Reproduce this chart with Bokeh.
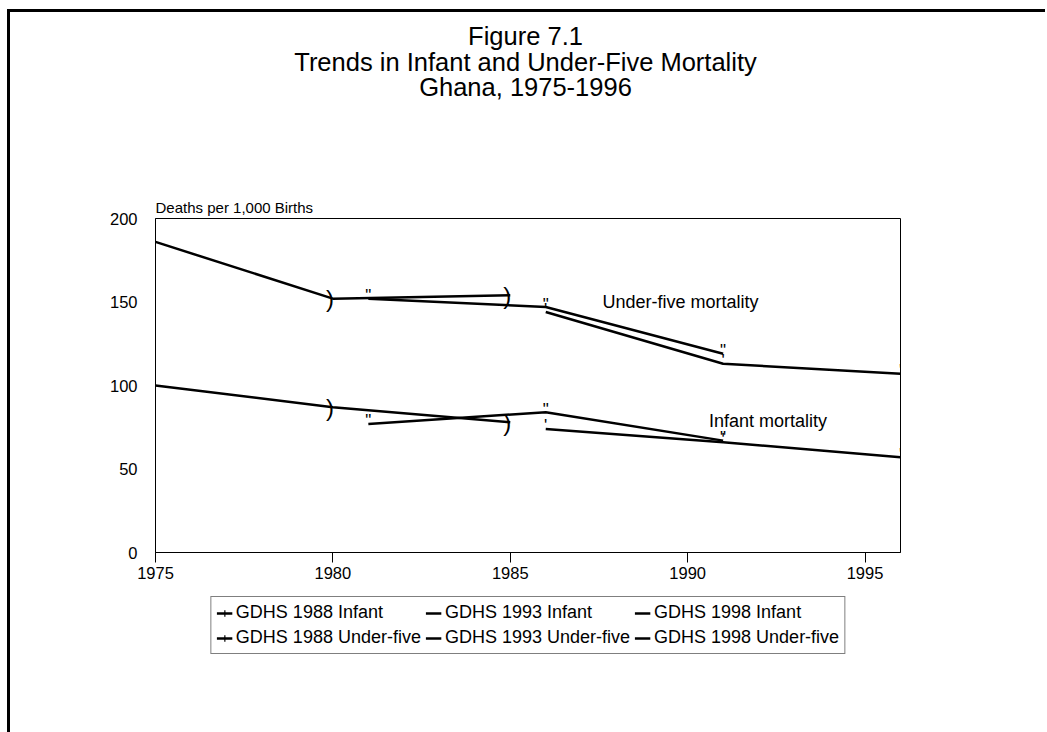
from bokeh.plotting import figure
from bokeh.layouts import column
from bokeh.models import Label, Legend, LegendItem, FixedTicker, Range1d, Div, Title
from bokeh.core.properties import value
from bokeh.embed import file_html
from bokeh.resources import INLINE

# ---- data ----
years_1988 = [1975, 1980, 1985]
infant_1988 = [100, 87, 78]
under5_1988 = [186, 152, 154]

years_1993 = [1981, 1986, 1991]
infant_1993 = [77, 84, 67]
under5_1993 = [152, 147, 119]

years_1998 = [1986, 1991, 1996]
infant_1998 = [74, 66, 57]
under5_1998 = [144, 113, 107]

x_ticks = [1975, 1980, 1985, 1990, 1995]
y_ticks = [0, 50, 100, 150, 200]

title_lines = ["Figure 7.1", "Trends in Infant and Under-Five Mortality", "Ghana, 1975-1996"]
y_title = "Deaths per 1,000 Births"

FONT = "Liberation Sans"

# ---- title block ----
head = Div(
    text=('<div style="padding-top:12px;text-align:center;font-family:\'Liberation Sans\';'
          'font-size:25.5px;line-height:25.5px;color:black;width:1031px;">'
          + "<br>".join(title_lines) + "</div>"),
    width=1035, height=100, margin=(0, 0, 0, 0))

# ---- chart ----
p = figure(width=1035, height=476, output_backend="svg", toolbar_location=None,
           x_range=Range1d(1975, 1996), y_range=Range1d(0, 200),
           min_border_left=145, min_border_right=145,
           min_border_top=106, min_border_bottom=36)
p.title = Title(text=y_title, align="left", text_font=FONT, text_font_size="15px",
                text_font_style="normal", text_color="black", standoff=6)
p.grid.visible = False
p.background_fill_color = "white"
p.border_fill_color = "white"
p.outline_line_color = "black"
p.outline_line_width = 1

# axes
p.xaxis.ticker = FixedTicker(ticks=x_ticks)
p.yaxis.ticker = FixedTicker(ticks=y_ticks)
for ax in (p.xaxis, p.yaxis):
    ax.axis_line_color = "black"
    ax.axis_line_width = 1
    ax.major_label_text_font = FONT
    ax.major_label_text_font_size = "16.5px"
    ax.major_label_text_color = "black"
    ax.minor_tick_line_color = None
p.xaxis.major_tick_in = 0
p.xaxis.major_tick_out = 10
p.xaxis.major_tick_line_color = "black"
p.xaxis.major_label_standoff = 4
p.yaxis.major_tick_in = 0
p.yaxis.major_tick_out = 0
p.yaxis.major_tick_line_color = None
p.yaxis.major_label_standoff = 18

LW = 2.5

def series(xs, ys, mark, off_x, off_y, size):
    ln = p.line(xs, ys, line_color="black", line_width=LW)
    mk = p.text(xs, ys, text=value(mark), text_font=value(FONT),
                text_font_size=value(size), text_color="black",
                text_align="center", text_baseline="middle",
                x_offset=off_x, y_offset=off_y)
    return ln, mk

series(years_1988, infant_1988, ")", -3, 0, "24px")
series(years_1988, under5_1988, ")", -3, 0, "24px")
series(years_1993, infant_1993, "\"", 0, -3, "17px")
series(years_1993, under5_1993, "\"", 0, -3, "17px")
series(years_1998, infant_1998, "'", 0, -3, "17px")
series(years_1998, under5_1998, "'", 0, -3, "17px")

p.add_layout(Label(x=1987.6, y=150, text="Under-five mortality", text_font=FONT,
                   text_font_size="18px", text_color="black",
                   text_align="left", text_baseline="middle"))
p.add_layout(Label(x=1990.6, y=79, text="Infant mortality", text_font=FONT,
                   text_font_size="18px", text_color="black",
                   text_align="left", text_baseline="middle"))

# ---- legend strip: a second canvas whose ranges keep the series out of view,
#      so its renderers only provide the legend keys ----
lg = figure(width=1035, height=144, output_backend="svg", toolbar_location=None,
            x_axis_location=None, y_axis_location=None, min_border=0,
            x_range=Range1d(0, 1), y_range=Range1d(0, 1))
lg.grid.visible = False
lg.outline_line_color = None
lg.background_fill_color = "white"
lg.border_fill_color = "white"

def key(xs, ys, label, cross):
    rends = [lg.line(xs, ys, line_color="black", line_width=LW)]
    if cross:
        rends.append(lg.scatter(xs, ys, marker="cross", size=17,
                                line_color="black", line_width=1.2))
    return LegendItem(label=label, renderers=rends)

items = [
    key(years_1988, infant_1988, "GDHS 1988 Infant", True),
    key(years_1993, infant_1993, "GDHS 1993 Infant", False),
    key(years_1998, infant_1998, "GDHS 1998 Infant", False),
    key(years_1988, under5_1988, "GDHS 1988 Under-five", True),
    key(years_1993, under5_1993, "GDHS 1993 Under-five", False),
    key(years_1998, under5_1998, "GDHS 1998 Under-five", False),
]

legend = Legend(items=items, orientation="horizontal", ncols=3, location="top_center")
legend.label_text_font = FONT
legend.label_text_font_size = "18px"
legend.label_text_color = "black"
legend.glyph_width = 16
legend.glyph_height = 20
legend.label_height = 20
legend.label_standoff = 4
legend.spacing = 4
legend.padding = 5
legend.margin = 8
legend.border_line_color = "black"
legend.border_line_width = 1
legend.background_fill_alpha = 1
lg.add_layout(legend, "center")

page = column(head, p, lg, spacing=0,
              styles={"border-left": "3px solid black", "border-top": "3px solid black",
                      "margin-left": "7px", "margin-top": "9px"})

open("out.html", "w").write(file_html(page, INLINE))
